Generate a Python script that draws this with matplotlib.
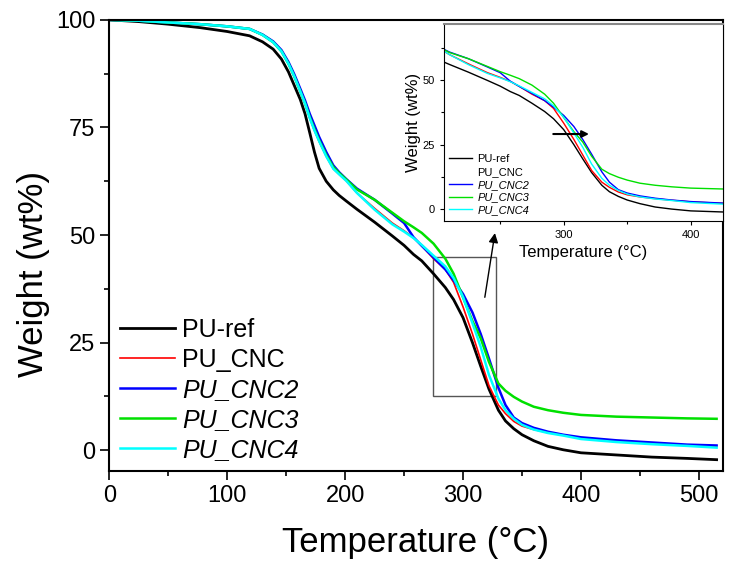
import numpy as np
import matplotlib
matplotlib.use("Agg")
import matplotlib.pyplot as plt
from matplotlib.patches import Rectangle
from matplotlib.ticker import MultipleLocator

plt.rcParams['font.family'] = ['Liberation Sans', 'DejaVu Sans']

# temperature (°C) and weight (wt%)
temp = [0, 25, 50, 77, 100, 119, 130, 139, 146, 152, 157, 162, 166, 170, 174, 178, 184, 190, 195, 201,
        210, 225, 240, 250, 258, 265, 275, 285, 292, 300, 308, 315, 322, 330, 336, 343, 350, 360,
        372, 385, 400, 430, 460, 490, 515]
pu_ref = [100, 99.6, 99.0, 98.2, 97.3, 96.3, 94.9, 93.2, 90.9, 87.9, 84.7, 81.5, 78.2, 73.8, 69.3, 65.5, 62.5, 60.5, 59.2, 57.9,
          56.0, 53.0, 49.8, 47.6, 45.5, 44.0, 41.0, 37.8, 35.0, 30.8, 25.0, 19.5, 14.2, 9.3, 6.8, 5.0, 3.6, 2.2,
          0.9, 0.1, -0.6, -1.1, -1.6, -1.9, -2.2]
pu_cnc = [100, 99.8, 99.4, 99.0, 98.5, 97.9, 96.5, 94.8, 92.7, 89.8, 86.8, 83.4, 80.6, 77.2, 74.3, 71.8, 68.3, 65.4, 64.1, 62.6,
          59.8, 56.2, 52.8, 51.0, 49.4, 47.5, 44.5, 42.0, 39.0, 33.3, 27.0, 21.0, 15.0, 10.5, 8.5, 6.7, 5.6, 4.8,
          4.1, 3.5, 2.9, 2.2, 1.7, 1.2, 0.9]
pu_cnc2 = [100, 99.8, 99.4, 99.0, 98.5, 97.9, 96.6, 95.0, 93.0, 90.2, 87.3, 84.0, 81.3, 78.2, 75.5, 72.8, 69.3, 66.2, 64.6, 63.0,
           60.8, 58.2, 55.0, 52.8, 49.5, 47.5, 44.8, 42.0, 39.5, 36.3, 32.0, 27.0, 21.3, 14.5, 10.5, 7.6, 6.3, 5.2,
           4.3, 3.6, 3.0, 2.3, 1.8, 1.3, 1.1]
pu_cnc3 = [100, 99.8, 99.4, 99.0, 98.5, 97.9, 96.5, 94.8, 92.7, 89.8, 86.8, 83.4, 80.6, 77.4, 74.6, 72.0, 68.6, 65.8, 64.4, 62.9,
           60.6, 58.2, 55.2, 53.2, 51.8, 50.5, 48.0, 44.5, 41.0, 35.5, 30.0, 26.0, 20.5, 15.5, 13.8, 12.4, 11.3, 10.1,
           9.3, 8.7, 8.2, 7.8, 7.6, 7.4, 7.3]
pu_cnc4 = [100, 99.8, 99.4, 99.0, 98.5, 97.9, 96.5, 94.8, 92.7, 89.8, 86.8, 83.4, 80.6, 77.2, 74.3, 71.8, 68.3, 65.4, 64.1, 62.6,
           59.8, 55.9, 52.5, 50.8, 49.3, 47.7, 45.2, 42.7, 40.0, 35.6, 29.5, 24.0, 17.5, 12.0, 9.3, 7.3, 5.9, 4.8,
           4.0, 3.4, 2.6, 1.9, 1.4, 1.0, 0.6]

series = [pu_ref, pu_cnc, pu_cnc2, pu_cnc3, pu_cnc4]
labels = ["PU-ref", "PU_CNC", "PU_CNC2", "PU_CNC3", "PU_CNC4"]
colors = ["black", "red", "blue", "#00e000", "cyan"]
widths = [2.0, 1.2, 1.8, 1.8, 1.8]

fig = plt.figure(figsize=(7.38, 5.68), dpi=100)
ax = fig.add_axes([0.148, 0.171, 0.831, 0.794])

for y, lab, c, w in zip(series, labels, colors, widths):
    ax.plot(temp, y, color=c, lw=w, label=lab)

ax.set_xlim(0, 520)
ax.set_ylim(-4.8, 100)
ax.xaxis.set_major_locator(MultipleLocator(100))
ax.xaxis.set_minor_locator(MultipleLocator(50))
ax.yaxis.set_major_locator(MultipleLocator(25))
ax.yaxis.set_minor_locator(MultipleLocator(12.5))
ax.tick_params(which='major', direction='out', length=6.5, width=1.2, labelsize=17)
ax.tick_params(which='minor', direction='out', length=3.5, width=1.2)
for s in ax.spines.values():
    s.set_linewidth(1.5)
ax.set_xlabel("Temperature (°C)", fontsize=25, labelpad=14)
ax.set_ylabel("Weight (wt%)", fontsize=25)
ax.yaxis.set_label_coords(-0.097, 0.436)

leg = ax.legend(loc='center left', bbox_to_anchor=(0.0174, 0.179), frameon=False,
                fontsize=18, handlelength=2.2, handletextpad=0.3, labelspacing=0.24,
                borderpad=0, borderaxespad=0)
for t in leg.get_texts()[2:]:
    t.set_fontstyle('italic')

# zoom box and arrow pointing to the inset
ax.add_patch(Rectangle((274.3, 12.65), 53.7, 32.35, fill=False, ec='#555555', lw=1))
ax.annotate("", xy=(327.4, 51.1), xytext=(318.1, 34.9),
            arrowprops=dict(arrowstyle='-|>', color='black', lw=1, mutation_scale=14))

# inset
ins = fig.add_axes([0.602, 0.6114, 0.377, 0.3463])
for y, lab, c in zip(series, labels, colors):
    ins.plot(temp, y, color=c, lw=1, label=lab)
ins.set_xlim(206, 425)
ins.set_ylim(-4.4, 71.6)
ins.xaxis.set_major_locator(MultipleLocator(100))
ins.xaxis.set_minor_locator(MultipleLocator(50))
ins.yaxis.set_major_locator(MultipleLocator(25))
ins.yaxis.set_minor_locator(MultipleLocator(12.5))
ins.tick_params(which='major', direction='out', length=3, width=0.8, labelsize=8)
ins.tick_params(which='minor', direction='out', length=2, width=0.8)
ins.set_xlabel("Temperature (°C)", fontsize=12, labelpad=4)
ins.set_ylabel("Weight (wt%)", fontsize=12, labelpad=1)
ins.spines['top'].set_color('#888888')
ins.spines['top'].set_linewidth(1.5)
ins.annotate("", xy=(322.1, 29.1), xytext=(289.6, 29.1),
             arrowprops=dict(arrowstyle='-|>', color='black', lw=1.5, mutation_scale=10))
ileg = ins.legend(loc='center left', bbox_to_anchor=(0.017, 0.1835), frameon=False,
                  fontsize=8, handlelength=2.1, handletextpad=0.45, labelspacing=0.25,
                  borderpad=0, borderaxespad=0)
for t in ileg.get_texts()[2:]:
    t.set_fontstyle('italic')
ileg.get_lines()[1].set_visible(False)

fig.savefig("out.png", dpi=100)
